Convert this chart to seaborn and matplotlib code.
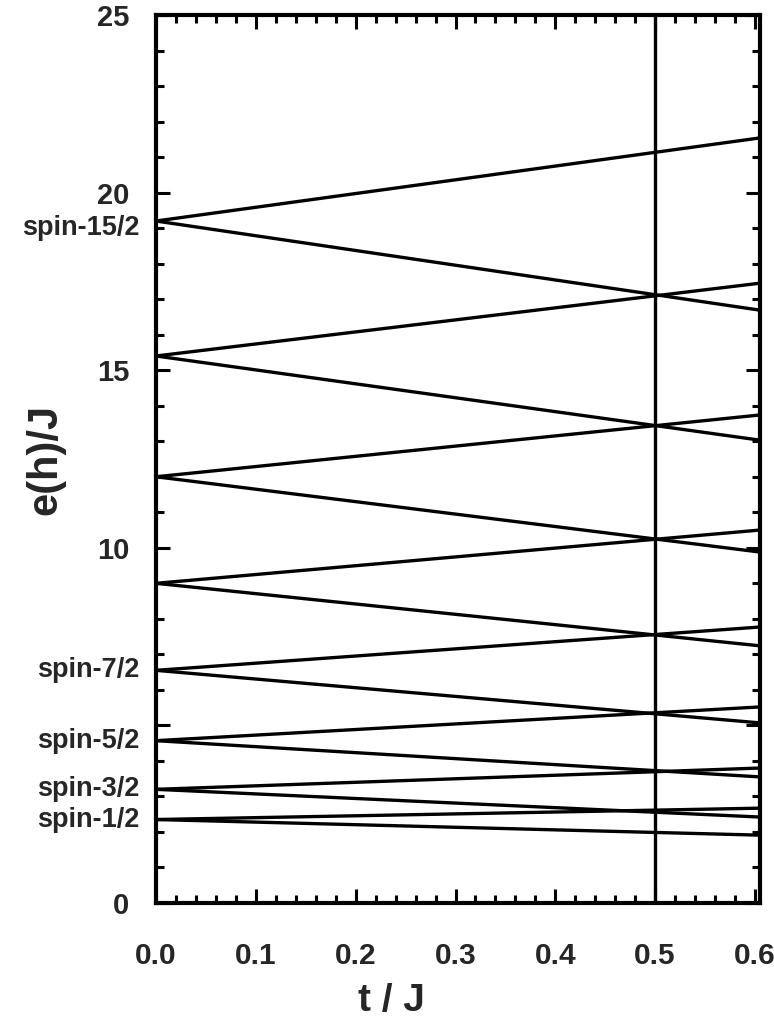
import numpy as np
import pandas as pd
import matplotlib
matplotlib.use("Agg")
import matplotlib.pyplot as plt
import seaborn as sns
from matplotlib.ticker import MultipleLocator, FixedLocator
from matplotlib.transforms import blended_transform_factory, offset_copy

# ---- data ----
spin_names = ["spin-1/2", "spin-3/2", "spin-5/2", "spin-7/2", "", "", "", "spin-15/2"]
e_start = [2.35, 3.2, 4.57, 6.55, 9.0, 12.0, 15.4, 19.2]      # e(h)/J at t/J = 0
e_up_end = [2.67, 3.80, 5.52, 7.77, 10.5, 13.74, 17.45, 21.54]  # rising branch at right edge
e_down_end = [1.91, 2.42, 3.55, 5.07, 7.24, 9.88, 13.03, 16.69]  # falling branch at right edge
t_start = 0.0
t_end = 0.605
t_mark = 0.5
x_ticks = [0.0, 0.1, 0.2, 0.3, 0.4, 0.5, 0.6]
x_ticklabels = ["0.0", "0.1", "0.2", "0.3", "0.4", "0.5", "0.6"]
y_ticks = [0, 5, 10, 15, 20, 25]
y_ticklabels = ["0", "", "10", "15", "20", "25"]

rows = []
for i, (s, u, d) in enumerate(zip(e_start, e_up_end, e_down_end)):
    rows += [dict(line=f"{i}u", t=t_start, e=s), dict(line=f"{i}u", t=t_end, e=u),
             dict(line=f"{i}d", t=t_start, e=s), dict(line=f"{i}d", t=t_end, e=d)]
df = pd.DataFrame(rows)

sns.set_style("ticks")
plt.rcParams["font.family"] = ["Liberation Sans", "DejaVu Sans"]
plt.rcParams["font.weight"] = "bold"

fig = plt.figure(figsize=(7.74, 10.29), dpi=100)
ax = fig.add_axes([156 / 774, 1 - 903 / 1029, (760 - 156) / 774, (903 - 15) / 1029])

sns.lineplot(data=df, x="t", y="e", units="line", estimator=None, color="black",
             linewidth=2.4, ax=ax, legend=False)
ax.axvline(t_mark, color="black", linewidth=2.4)

ax.set_xlim(t_start, t_end)
ax.set_ylim(0, 25)

ax.xaxis.set_major_locator(FixedLocator(x_ticks))
ax.set_xticklabels(x_ticklabels)
ax.xaxis.set_minor_locator(MultipleLocator(0.02))
ax.yaxis.set_major_locator(FixedLocator(y_ticks))
ax.set_yticklabels(y_ticklabels)
ax.yaxis.set_minor_locator(MultipleLocator(1))

for s in ax.spines.values():
    s.set_linewidth(3.0)
    s.set_color("black")

ax.tick_params(which="both", direction="in", top=True, right=True, color="black", width=2.2)
ax.tick_params(which="major", length=10)
ax.tick_params(which="minor", length=6)
ax.tick_params(axis="x", which="major", labelsize=21.5, pad=28)
ax.tick_params(axis="y", which="major", labelsize=21, pad=19)
for lab in ax.get_xticklabels() + ax.get_yticklabels():
    lab.set_fontweight("bold")

base = blended_transform_factory(ax.transAxes, ax.transData)
for name, e0 in zip(spin_names, e_start):
    if name:
        dy = -5 if name == "spin-15/2" else 0
        trans = offset_copy(base, fig=fig, x=-12, y=dy, units="points")
        ax.text(0, e0, name, transform=trans, ha="right", va="center",
                fontsize=19.5, fontweight="bold")

ax.set_xlabel("t / J", fontsize=28, fontweight="bold")
ax.set_ylabel("e(h)/J", fontsize=30, fontweight="bold")
ax.xaxis.set_label_coords(0.39, -0.09)
ax.yaxis.set_label_coords(-0.15, 0.5)

fig.savefig("out.png", dpi=100)
